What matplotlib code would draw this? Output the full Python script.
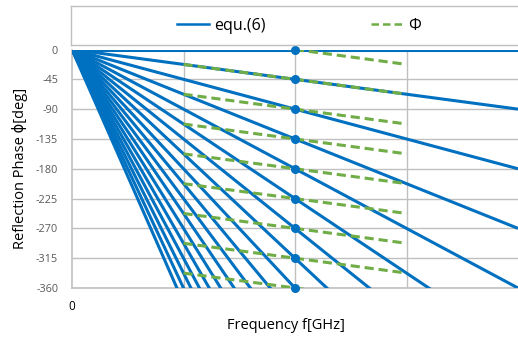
import matplotlib
matplotlib.use("Agg")
import matplotlib.pyplot as plt
from matplotlib.lines import Line2D

plt.rcParams['font.family'] = ['Open Sans', 'DejaVu Sans']

BLUE = '#0070C0'
GREEN = '#70AD47'
GRID = '#C0C0C0'

# equ.(6): straight lines from the origin, phase reached at f0 = 2
f0 = 2.0
f_end = 4.0
equ6_phase_at_f0 = [0, -45, -90, -135, -180, -225, -270, -315, -360,
                    -405, -450, -495, -540, -585, -630, -675, -720, -765]

# Phi: dashed segments through the markers, sampled at f = 1, 2, 3
phi_f = [1, 2, 3]
phi_values = [
    [22.5, 0, -22.5],
    [-22.5, -45, -67.5],
    [-67.5, -90, -112.5],
    [-112.5, -135, -157.5],
    [-157.5, -180, -202.5],
    [-202.5, -225, -247.5],
    [-247.5, -270, -292.5],
    [-292.5, -315, -337.5],
    [-337.5, -360, -382.5],
]

marker_phase = [0, -45, -90, -135, -180, -225, -270, -315, -360]

yticks = [0, -45, -90, -135, -180, -225, -270, -315, -360]

fig = plt.figure(figsize=(5.18, 3.40), dpi=100)
ax = fig.add_axes([72/518, 1-288/340, 446/518, (288-49.5)/340])

for x in [1, 2, 3]:
    ax.axvline(x, color=GRID, lw=1.0, zorder=1)
for y in yticks:
    ax.axhline(y, color=GRID, lw=1.0, zorder=1)

for p in equ6_phase_at_f0:
    ax.plot([0, f0, f_end], [0, p, p * f_end / f0], color=BLUE, lw=2.2,
            solid_capstyle='butt', zorder=3)

for vals in phi_values:
    ax.plot(phi_f, vals, color=GREEN, lw=2.2, ls=(0, (3, 1.6)), zorder=4)

ax.plot([f0] * len(marker_phase), marker_phase, 'o', color=BLUE, ms=5.5,
        zorder=5, clip_on=False)

ax.set_xlim(0, 4)
ax.set_ylim(-360, 0)
ax.set_yticks(yticks)
ax.set_yticklabels([str(v) for v in yticks])
ax.set_xticks([0])
ax.set_xticklabels(['0'])
ax.tick_params(axis='y', length=0, pad=10, labelsize=7.8, labelcolor='#595959')
ax.tick_params(axis='x', length=0, pad=9, labelsize=8.5, labelcolor='#000000')

for s in ['top', 'right']:
    ax.spines[s].set_visible(False)
for s in ['left', 'bottom']:
    ax.spines[s].set_color(GRID)
    ax.spines[s].set_linewidth(1.2)

ax.set_ylabel('Reflection Phase ϕ[deg]', fontsize=10.5, color='#000000', labelpad=6)
ax.set_xlabel('Frequency f[GHz]', fontsize=10.5, color='#000000', labelpad=6)
ax.xaxis.set_label_coords(0.479, -0.125)

# legend box above the plot
lax = fig.add_axes([71/518, 1-45/340, 447/518, 39/340])
lax.set_xticks([])
lax.set_yticks([])
for s in lax.spines.values():
    s.set_color(GRID)
    s.set_linewidth(1.0)
lax.spines['right'].set_visible(False)
handles = [Line2D([], [], color=BLUE, lw=1.8),
           Line2D([], [], color=GREEN, lw=1.8, ls=(0, (3, 1.6)))]
lax.legend(handles, ['equ.(6)', 'Φ'], ncol=2, loc='center', frameon=False,
           fontsize=11.5, handlelength=2.0, handletextpad=0.3,
           columnspacing=6.6, bbox_to_anchor=(0.51, 0.5))

fig.savefig('out.png', dpi=100)
